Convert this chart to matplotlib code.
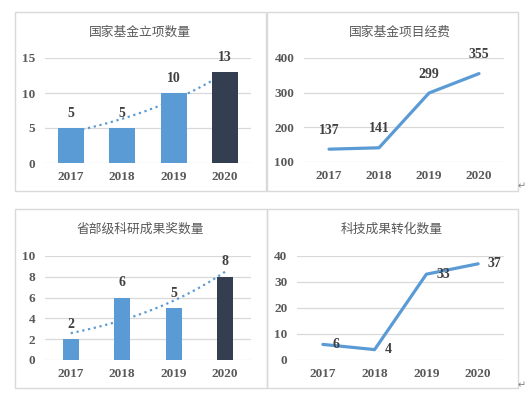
import numpy as np
import matplotlib
matplotlib.use("Agg")
import matplotlib.pyplot as plt
from matplotlib.patches import Rectangle

plt.rcParams['font.family'] = ['Noto Sans CJK SC', 'DejaVu Sans']

years = ['2017', '2018', '2019', '2020']
nat_projects = [5, 5, 10, 13]
nat_funds = [137, 141, 299, 355]
prov_awards = [2, 6, 5, 8]
transfers = [6, 4, 33, 37]

BLUE = '#5B9BD5'
NAVY = '#333F50'
GRID = '#D9D9D9'
TICK = '#595959'
LABEL = '#404040'

W, H = 532, 397
fig = plt.figure(figsize=(W / 100, H / 100), dpi=100)


def px_axes(x0, y0, x1, y1):
    return fig.add_axes([x0 / W, 1 - y1 / H, (x1 - x0) / W, (y1 - y0) / H])


def border(x0, y0, x1, y1):
    fig.patches.append(Rectangle((x0 / W, 1 - y1 / H), (x1 - x0) / W, (y1 - y0) / H,
                                 transform=fig.transFigure, fill=False,
                                 edgecolor=GRID, linewidth=1.0))


def title(x, y, s):
    fig.text(x / W, 1 - y / H, s, ha='center', va='center', fontsize=9.2, color=TICK)


def style(ax, ylim, step):
    ax.set_ylim(*ylim)
    ax.set_yticks(np.arange(ylim[0], ylim[1] + 1, step))
    ax.set_xlim(-0.5, len(years) - 0.5)
    ax.set_xticks(range(len(years)))
    ax.set_xticklabels(years)
    for s in ax.spines.values():
        s.set_visible(False)
    ax.grid(axis='y', color=GRID, linewidth=0.9)
    ax.set_axisbelow(True)
    ax.tick_params(length=0, labelcolor=TICK, labelsize=9.5)
    ax.tick_params(axis='y', pad=7)
    ax.tick_params(axis='x', pad=6)
    for t in ax.get_xticklabels() + ax.get_yticklabels():
        t.set_fontfamily('Liberation Serif')
        t.set_fontweight('bold')
    ax.patch.set_alpha(0)


def bar_chart(ax, vals, width, ylim, step):
    style(ax, ylim, step)
    x = np.arange(len(vals))
    colors = [BLUE] * (len(vals) - 1) + [NAVY]
    ax.bar(x, vals, width=width, color=colors, zorder=3)
    # exponential trendline like Excel
    k, b = np.polyfit(x, np.log(vals), 1)
    xs = np.linspace(0, len(vals) - 1, 100)
    ax.plot(xs, np.exp(b + k * xs), color=BLUE, linestyle=':', linewidth=1.6, zorder=2)
    for xi, v in zip(x, vals):
        ax.annotate(str(v), (xi, v), xytext=(0, 6), textcoords='offset points',
                    ha='center', va='bottom', fontsize=10, fontweight='bold',
                    color=LABEL, family='Liberation Serif', zorder=4)


def line_chart(ax, vals, ylim, step, offset, ha, va):
    style(ax, ylim, step)
    x = np.arange(len(vals))
    ax.plot(x, vals, color=BLUE, linewidth=2.3, zorder=3, solid_capstyle='round')
    for xi, v in zip(x, vals):
        ax.annotate(str(v), (xi, v), xytext=offset, textcoords='offset points',
                    ha=ha, va=va, fontsize=10, fontweight='bold',
                    color=LABEL, family='Liberation Serif', zorder=4)


# borders
border(15, 12, 266, 191)
border(267, 12, 518, 191)
border(15, 209, 267, 388)
border(267, 209, 518, 388)

# top-left
ax1 = px_axes(45, 58, 251, 163)
bar_chart(ax1, nat_projects, 0.51, (0, 15), 5)
title(140, 32, '国家基金立项数量')

# top-right
ax2 = px_axes(304, 58, 504, 162)
line_chart(ax2, nat_funds, (100, 400), 100, (0, 9), 'center', 'bottom')
title(400, 32, '国家基金项目经费')

# bottom-left
ax3 = px_axes(45, 256, 251, 360)
bar_chart(ax3, prov_awards, 0.31, (0, 10), 2)
title(140, 229, '省部级科研成果奖数量')

# bottom-right
ax4 = px_axes(297, 256, 504, 360)
line_chart(ax4, transfers, (0, 40), 10, (7, 0), 'left', 'center')
title(392, 229, '科技成果转化数量')

# paragraph marks
for y in (186, 385):
    fig.text(522 / W, 1 - y / H, '\u21b5', fontsize=7, color='#808080',
             ha='center', va='center', family='DejaVu Sans')

fig.savefig('out.png', dpi=100)
plt.close()
